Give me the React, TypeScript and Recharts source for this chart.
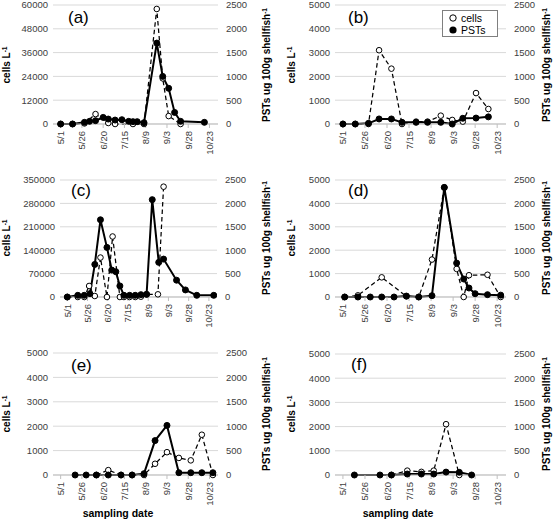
import React from 'react';
import { LineChart, Line, XAxis, YAxis, CartesianGrid } from 'recharts';

const FONT = '"Liberation Sans", Arial, Helvetica, sans-serif';
const TICK_COLOR = '#404040';

// x axis: days after 5/1
const tickDays = [0, 25, 50, 75, 100, 125, 150, 175];
const tickLabels = ['5/1', '5/26', '6/20', '7/15', '8/9', '9/3', '9/28', '10/23'];
const xDomain = [-9, 185];

const cellTicksA = [0, 12000, 24000, 36000, 48000, 60000];
const cellTicksC = [0, 70000, 140000, 210000, 280000, 350000];
const cellTicks5k = [0, 1000, 2000, 3000, 4000, 5000];
const pstTicks = [0, 500, 1000, 1500, 2000, 2500];

// panel (a)
const aCellDays = [0, 14, 28, 41, 56, 64, 85, 98, 113, 120, 127, 141];
const aCells = [0, 0, 300, 5000, 500, 0, 0, 0, 58000, 23000, 4000, 0];
const aPstDays = [0, 14, 28, 34, 41, 50, 56, 64, 72, 80, 85, 90, 98, 113, 120, 127, 134, 141, 169];
const aPst = [0, 0, 35, 56, 70, 139, 104, 83, 90, 56, 49, 49, 28, 1700, 1000, 750, 243, 56, 35];

// panel (b)
const bCellDays = [0, 14, 29, 41, 55, 67, 83, 96, 111, 124, 136, 151, 165];
const bCells = [0, 0, 0, 3100, 2325, 0, 100, 100, 350, 170, 100, 1300, 630];
const bPstDays = [0, 14, 29, 41, 55, 67, 83, 96, 111, 124, 136, 151, 165];
const bPst = [0, 0, 14, 106, 106, 35, 35, 35, 35, 0, 120, 125, 150];

// panel (c)
const cCellDays = [0, 13, 21, 27, 34, 41, 49, 56, 65, 70, 77, 84, 91, 98, 112, 119];
const cCells = [0, 0, 0, 33000, 3000, 118000, 0, 181000, 0, 0, 0, 0, 1000, 8000, 8000, 330000];
const cPstDays = [0, 13, 21, 28, 34, 41, 49, 55, 60, 65, 70, 77, 84, 91, 98, 105, 113, 119, 135, 146, 160, 181];
const cPst = [0, 36, 36, 72, 697, 1650, 1060, 575, 540, 237, 36, 36, 36, 50, 57, 2080, 740, 810, 359, 151, 36, 36];

// panel (d)
const dCellDays = [2, 17, 44, 72, 86, 101, 115, 129, 137, 143, 164, 179];
const dCells = [0, 70, 840, 30, 0, 1600, 4690, 1200, 0, 930, 950, 0];
const dPstDays = [2, 17, 31, 44, 58, 72, 86, 101, 115, 129, 137, 143, 150, 164, 179];
const dPst = [0, 0, 0, 0, 0, 20, 0, 28, 2340, 724, 384, 192, 71, 50, 40];

// panel (e)
const eCellDays = [42, 56, 71, 84, 98, 111, 125, 139, 153, 166, 179];
const eCells = [0, 200, 0, 0, 0, 460, 935, 700, 600, 1650, 0];
const ePstDays = [17, 30, 42, 56, 71, 84, 98, 111, 125, 139, 153, 166, 179];
const ePst = [0, 0, 0, 0, 0, 0, 27, 705, 1016, 47, 47, 47, 47];

// panel (f)
const fCellDays = [55, 73, 89, 103, 117, 132];
const fCells = [0, 180, 130, 180, 2100, 0];
const fPstDays = [13, 42, 55, 73, 89, 103, 117, 132, 146];
const fPst = [0, 0, 0, 20, 20, 20, 60, 55, 0];

const zip = (days: number[], vals: number[], key: string) =>
  days.map((d, i) => ({ day: d, [key]: vals[i] }));

const XTick = (props: any) => {
  const { x, y, payload } = props;
  const idx = tickDays.indexOf(payload.value);
  return (
    <text
      x={x}
      y={y}
      transform={`rotate(-90, ${x}, ${y})`}
      textAnchor="end"
      dominantBaseline="central"
      fontSize={9.5}
      fill={TICK_COLOR}
      fontFamily={FONT}
    >
      {tickLabels[idx]}
    </text>
  );
};

type PanelProps = {
  left: number;
  top: number;
  height: number;
  mTop: number;
  mBottom: number;
  lw: number;
  rw: number;
  mRight: number;
  cellTicks: number[];
  cells: any[];
  pst: any[];
};

const Panel = (p: PanelProps) => (
  <div style={{ position: 'absolute', left: p.left, top: p.top }}>
    <LineChart
      width={280}
      height={p.height}
      margin={{ top: p.mTop, right: p.mRight, bottom: p.mBottom, left: 0 }}
      style={{ overflow: 'visible' }}
    >
      <CartesianGrid yAxisId="l" vertical={false} stroke="#D9D9D9" strokeWidth={1} />
      <XAxis
        dataKey="day"
        type="number"
        domain={xDomain}
        ticks={tickDays}
        interval={0}
        allowDataOverflow
        height={40}
        axisLine={{ stroke: '#BFBFBF' }}
        tickLine={{ stroke: '#BFBFBF' }}
        tickSize={4}
        tickMargin={3}
        tick={(tp: any) => <XTick {...tp} />}
      />
      <YAxis
        yAxisId="l"
        orientation="left"
        width={p.lw}
        domain={[0, p.cellTicks[p.cellTicks.length - 1]]}
        ticks={p.cellTicks}
        interval={0}
        axisLine={false}
        tickLine={false}
        tickSize={0}
        tickMargin={5}
        tick={{ fontSize: 9.5, fill: TICK_COLOR, fontFamily: FONT }}
      />
      <YAxis
        yAxisId="r"
        orientation="right"
        width={p.rw}
        domain={[0, 2500]}
        ticks={pstTicks}
        interval={0}
        axisLine={false}
        tickLine={false}
        tickSize={0}
        tickMargin={8}
        tick={{ fontSize: 9.5, fill: TICK_COLOR, fontFamily: FONT }}
      />
      <Line
        yAxisId="l"
        data={p.cells}
        dataKey="cells"
        name="cells"
        type="linear"
        stroke="#000"
        strokeWidth={1.25}
        strokeDasharray="4.5 3"
        dot={{ r: 2.8, fill: '#fff', stroke: '#000', strokeWidth: 1, strokeDasharray: 'none' }}
        activeDot={false}
        isAnimationActive={false}
      />
      <Line
        yAxisId="r"
        data={p.pst}
        dataKey="pst"
        name="PSTs"
        type="linear"
        stroke="#000"
        strokeWidth={2}
        dot={{ r: 3, fill: '#000', stroke: '#000', strokeWidth: 1 }}
        activeDot={false}
        isAnimationActive={false}
      />
    </LineChart>
  </div>
);

const VTitle = ({ cx, cy, children }: { cx: number; cy: number; children: React.ReactNode }) => (
  <div
    style={{
      position: 'absolute',
      left: cx,
      top: cy,
      transform: 'translate(-50%, -50%) rotate(-90deg)',
      whiteSpace: 'nowrap',
      fontFamily: FONT,
      fontWeight: 'bold',
      fontSize: 10,
      color: '#000',
      lineHeight: '12px',
    }}
  >
    {children}
  </div>
);

const Letter = ({ x, y, t }: { x: number; y: number; t: string }) => (
  <div
    style={{
      position: 'absolute',
      left: x,
      top: y,
      fontFamily: FONT,
      fontSize: 17,
      lineHeight: '17px',
      color: '#000',
    }}
  >
    {t}
  </div>
);

const Sup = () => <sup style={{ fontSize: '0.65em', verticalAlign: '0.45em', lineHeight: 0 }}>-1</sup>;

export default function App() {
  const rowCenters = [65, 238, 414];
  return (
    <div style={{ position: 'relative', width: 560, height: 521, background: '#fff', overflow: 'hidden' }}>
      <style>{'body{margin:0}'}</style>
      <Panel left={0} top={0} height={165} mTop={5} mBottom={1} lw={53} rw={40} mRight={22}
        cellTicks={cellTicksA} cells={zip(aCellDays, aCells, 'cells')} pst={zip(aPstDays, aPst, 'pst')} />
      <Panel left={280} top={0} height={165} mTop={5} mBottom={1} lw={55} rw={40} mRight={14}
        cellTicks={cellTicks5k} cells={zip(bCellDays, bCells, 'cells')} pst={zip(bPstDays, bPst, 'pst')} />
      <Panel left={0} top={165} height={172} mTop={15} mBottom={0} lw={60} rw={40} mRight={23}
        cellTicks={cellTicksC} cells={zip(cCellDays, cCells, 'cells')} pst={zip(cPstDays, cPst, 'pst')} />
      <Panel left={280} top={165} height={172} mTop={15} mBottom={0} lw={55} rw={40} mRight={14}
        cellTicks={cellTicks5k} cells={zip(dCellDays, dCells, 'cells')} pst={zip(dPstDays, dPst, 'pst')} />
      <Panel left={0} top={330} height={185} mTop={23} mBottom={0} lw={53} rw={40} mRight={22}
        cellTicks={cellTicks5k} cells={zip(eCellDays, eCells, 'cells')} pst={zip(ePstDays, ePst, 'pst')} />
      <Panel left={280} top={330} height={185} mTop={24} mBottom={0} lw={55} rw={40} mRight={14}
        cellTicks={cellTicks5k} cells={zip(fCellDays, fCells, 'cells')} pst={zip(fPstDays, fPst, 'pst')} />

      {rowCenters.map((cy, i) => (
        <React.Fragment key={i}>
          <VTitle cx={7} cy={cy}>cells L<Sup /></VTitle>
          <VTitle cx={267} cy={cy}>PSTs ug 100g shellfish<Sup /></VTitle>
          <VTitle cx={292} cy={cy}>cells L<Sup /></VTitle>
          <VTitle cx={547} cy={cy}>PSTs ug 100g shellfish<Sup /></VTitle>
        </React.Fragment>
      ))}

      <Letter x={68} y={9} t="(a)" />
      <Letter x={348} y={9} t="(b)" />
      <Letter x={71} y={182} t="(c)" />
      <Letter x={348} y={182} t="(d)" />
      <Letter x={71} y={357} t="(e)" />
      <Letter x={351} y={356} t="(f)" />

      <div
        style={{
          position: 'absolute',
          left: 442,
          top: 10,
          width: 56,
          height: 27,
          border: '1px solid #7F7F7F',
          background: '#fff',
          boxSizing: 'border-box',
          fontFamily: FONT,
          fontSize: 10.5,
          color: '#000',
          padding: '1px 0 0 5px',
          lineHeight: '12px',
        }}
      >
        <div style={{ display: 'flex', alignItems: 'center' }}>
          <svg width={10} height={10} style={{ marginRight: 3 }}>
            <circle cx={5} cy={5} r={3.2} fill="#fff" stroke="#000" strokeWidth={1} />
          </svg>
          cells
        </div>
        <div style={{ display: 'flex', alignItems: 'center' }}>
          <svg width={10} height={10} style={{ marginRight: 3 }}>
            <circle cx={5} cy={5} r={3.6} fill="#000" />
          </svg>
          PSTs
        </div>
      </div>

      <div style={{ position: 'absolute', left: 118, top: 513, transform: 'translate(-50%, -50%)', fontFamily: FONT, fontWeight: 'bold', fontSize: 10.5, whiteSpace: 'nowrap' }}>
        sampling date
      </div>
      <div style={{ position: 'absolute', left: 398, top: 513, transform: 'translate(-50%, -50%)', fontFamily: FONT, fontWeight: 'bold', fontSize: 10.5, whiteSpace: 'nowrap' }}>
        sampling date
      </div>
    </div>
  );
}
